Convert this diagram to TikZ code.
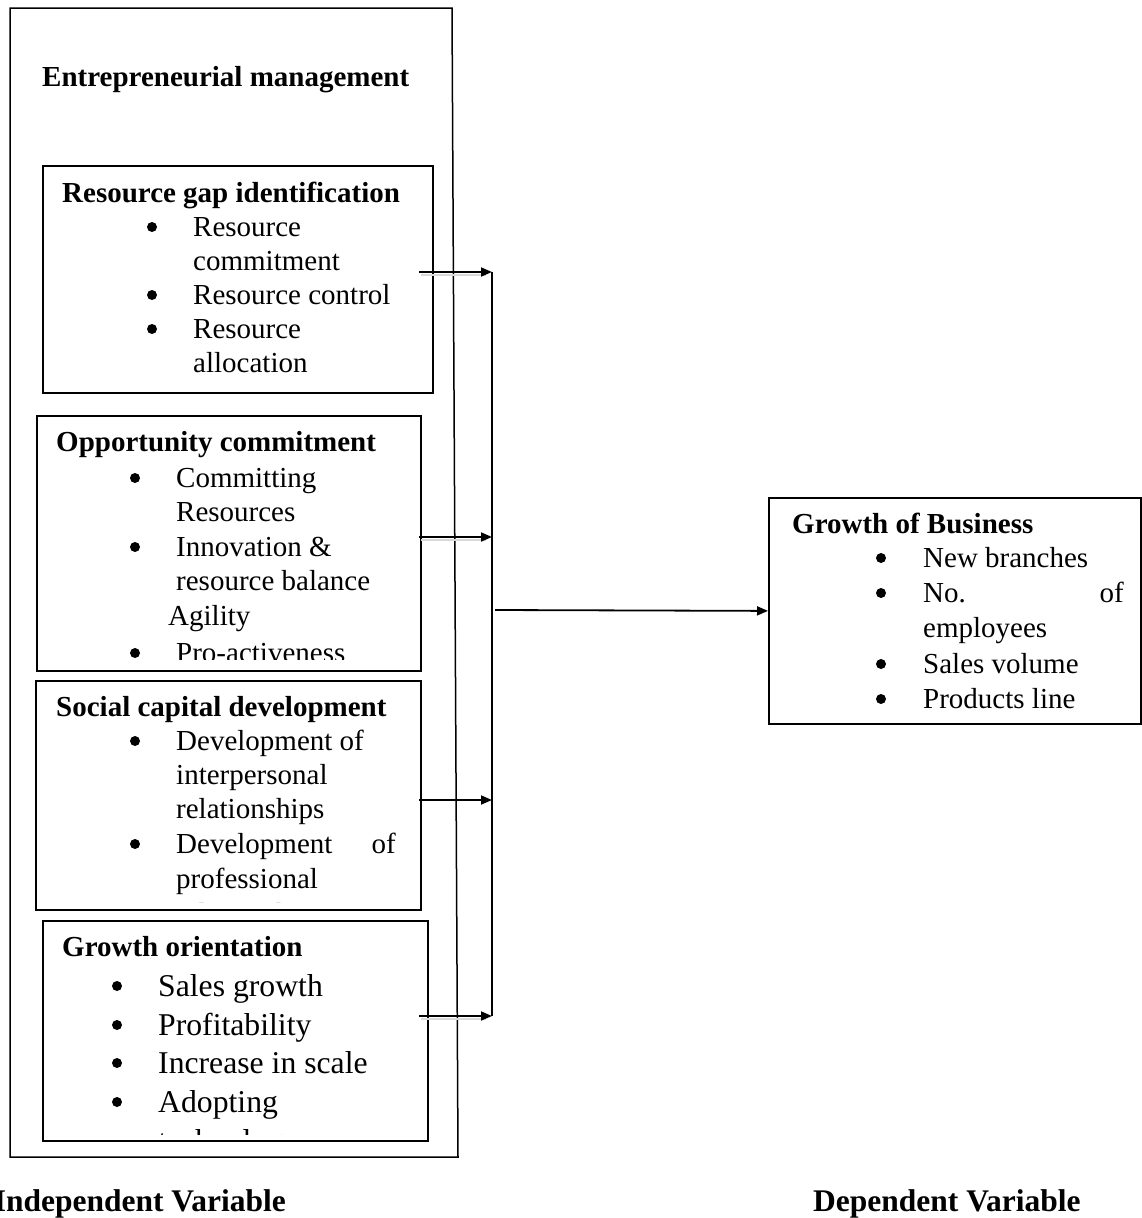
\documentclass[tikz,border=0pt]{standalone}
\usepackage{fontspec}
\setmainfont{Liberation Serif}
\usetikzlibrary{arrows.meta}
\begin{document}
\begin{tikzpicture}[x=1pt,y=-1pt,
  box/.style={draw, line width=1.8pt, inner sep=0pt, anchor=north west},
  ttl/.style={anchor=base west, inner sep=0pt, font=\fontsize{29}{34}\selectfont\bfseries},
  txt/.style={anchor=base west, inner sep=0pt, font=\fontsize{29}{34}\selectfont},
  txtr/.style={anchor=base east, inner sep=0pt, font=\fontsize{29}{34}\selectfont},
  txtb/.style={anchor=base west, inner sep=0pt, font=\fontsize{31.7}{38}\selectfont},
  lab/.style={inner sep=0pt, font=\fontsize{31.5}{36}\selectfont\bfseries},
  bul/.style={circle, fill, inner sep=0pt, minimum size=10pt},
  arr/.style={line width=1.8pt, -{Triangle[length=11pt,width=9pt]}},
  shd/.style={line width=2.5pt, black!15},
  conn/.style={line width=1.8pt}
]
\useasboundingbox (0,0) rectangle (1142,1218);

% outer frame
\draw[line width=1.5pt] (10,8) coordinate (o1) -- (452,8) coordinate (o2) -- (458,1157) coordinate (o3) -- (10,1157) coordinate (o4) -- cycle;
\node[ttl] (emT) at (42,86) {Entrepreneurial management};

% Box 1
\node[box, minimum width=390pt, minimum height=227pt] (rg) at (42,165) {};
\node[ttl] (rgT) at (62,202) {Resource gap identification};
\node[bul] (rgb1) at (152,227) {};
\node[txt] (rg1) at (193,236) {Resource};
\node[txt] (rg1b) at (193,270) {commitment};
\node[bul] (rgb2) at (152,295) {};
\node[txt] (rg2) at (193,304) {Resource control};
\node[bul] (rgb3) at (152,329) {};
\node[txt] (rg3) at (193,338) {Resource};
\node[txt] (rg3b) at (193,372) {allocation};

% Box 2
\node[box, minimum width=384pt, minimum height=255pt] (oc) at (36,415) {};
\node[ttl] (ocT) at (56,451) {Opportunity commitment};
\begin{scope}
\clip (36,415) rectangle (420,659);
\node[bul] (ocb1) at (135,478) {};
\node[txt] (oc1) at (176,487) {Committing};
\node[txt] (oc1b) at (176,521) {Resources};
\node[bul] (ocb2) at (135,547) {};
\node[txt] (oc2) at (176,556) {Innovation \&};
\node[txt] (oc2b) at (176,590) {resource balance};
\node[txt] (oc2c) at (168,625) {Agility};
\node[bul] (ocb3) at (135,653) {};
\node[txt] (oc3) at (176,662) {Pro-activeness};
\end{scope}

% Box 3
\node[box, minimum width=385pt, minimum height=229pt] (sc) at (35,680) {};
\node[ttl] (scT) at (56,716) {Social capital development};
\begin{scope}
\clip (35,680) rectangle (420,902);
\node[bul] (scb1) at (135,741) {};
\node[txt] (sc1) at (176,750) {Development of};
\node[txt] (sc1b) at (176,784) {interpersonal};
\node[txt] (sc1c) at (176,818) {relationships};
\node[bul] (scb2) at (135,844) {};
\node[txt] (sc2) at (176,853) {Development};
\node[txtr] (sc2o) at (396,853) {of};
\node[txt] (sc2b) at (176,888) {professional};
\node[txt] (sc2c) at (176,923) {relationships};
\end{scope}

% Box 4
\node[box, minimum width=385pt, minimum height=220pt] (go) at (42,920) {};
\node[ttl] (goT) at (62,956) {Growth orientation};
\begin{scope}
\clip (42,920) rectangle (427,1134);
\node[bul] (gob1) at (117,986) {};
\node[txtb] (go1) at (158,996) {Sales growth};
\node[bul] (gob2) at (117,1025) {};
\node[txtb] (go2) at (158,1035) {Profitability};
\node[bul] (gob3) at (117,1063) {};
\node[txtb] (go3) at (158,1073) {Increase in scale};
\node[bul] (gob4) at (117,1102) {};
\node[txtb] (go4) at (158,1112) {Adopting};
\node[txtb] (go4b) at (158,1151) {technology};
\end{scope}

% Growth of Business
\node[box, minimum width=372pt, minimum height=226pt] (gb) at (768,497) {};
\node[ttl] (gbT) at (792,533) {Growth of Business};
\node[bul] (gbb1) at (881,558) {};
\node[txt] (gb1) at (923,567) {New branches};
\node[bul] (gbb2) at (881,593) {};
\node[txt] (gb2) at (923,602) {No.};
\node[txtr] (gb2o) at (1124,602) {of};
\node[txt] (gb2b) at (923,637) {employees};
\node[bul] (gbb3) at (881,664) {};
\node[txt] (gb3) at (923,673) {Sales volume};
\node[bul] (gbb4) at (881,699) {};
\node[txt] (gb4) at (923,708) {Products line};

% labels
\node[lab, anchor=base east] (iv) at (286,1211) {Independent Variable};
\node[lab, anchor=base west] (dv) at (813,1211) {Dependent Variable};

% connectors
\coordinate (a1) at (419,272); \coordinate (j1) at (492,272);
\coordinate (a2) at (419,537); \coordinate (j2) at (492,537);
\coordinate (a3) at (419,800); \coordinate (j3) at (492,800);
\coordinate (a4) at (419,1016); \coordinate (j4) at (492,1016);
\coordinate (m) at (495,610);

\draw[shd] ([shift={(2,3)}]a1) -- ([shift={(-6,3)}]j1);
\draw[shd] ([shift={(2,3)}]a2) -- ([shift={(-6,3)}]j2);
\draw[shd] ([shift={(2,3)}]a4) -- ([shift={(-6,3)}]j4);

\draw[conn] (j1) -- (j4);
\draw[arr] (a1) -- (j1);
\draw[arr] (a2) -- (j2);
\draw[arr] (a3) -- (j3);
\draw[arr] (a4) -- (j4);
\draw[arr] (m) -- (gb.west);
\end{tikzpicture}
\end{document}
